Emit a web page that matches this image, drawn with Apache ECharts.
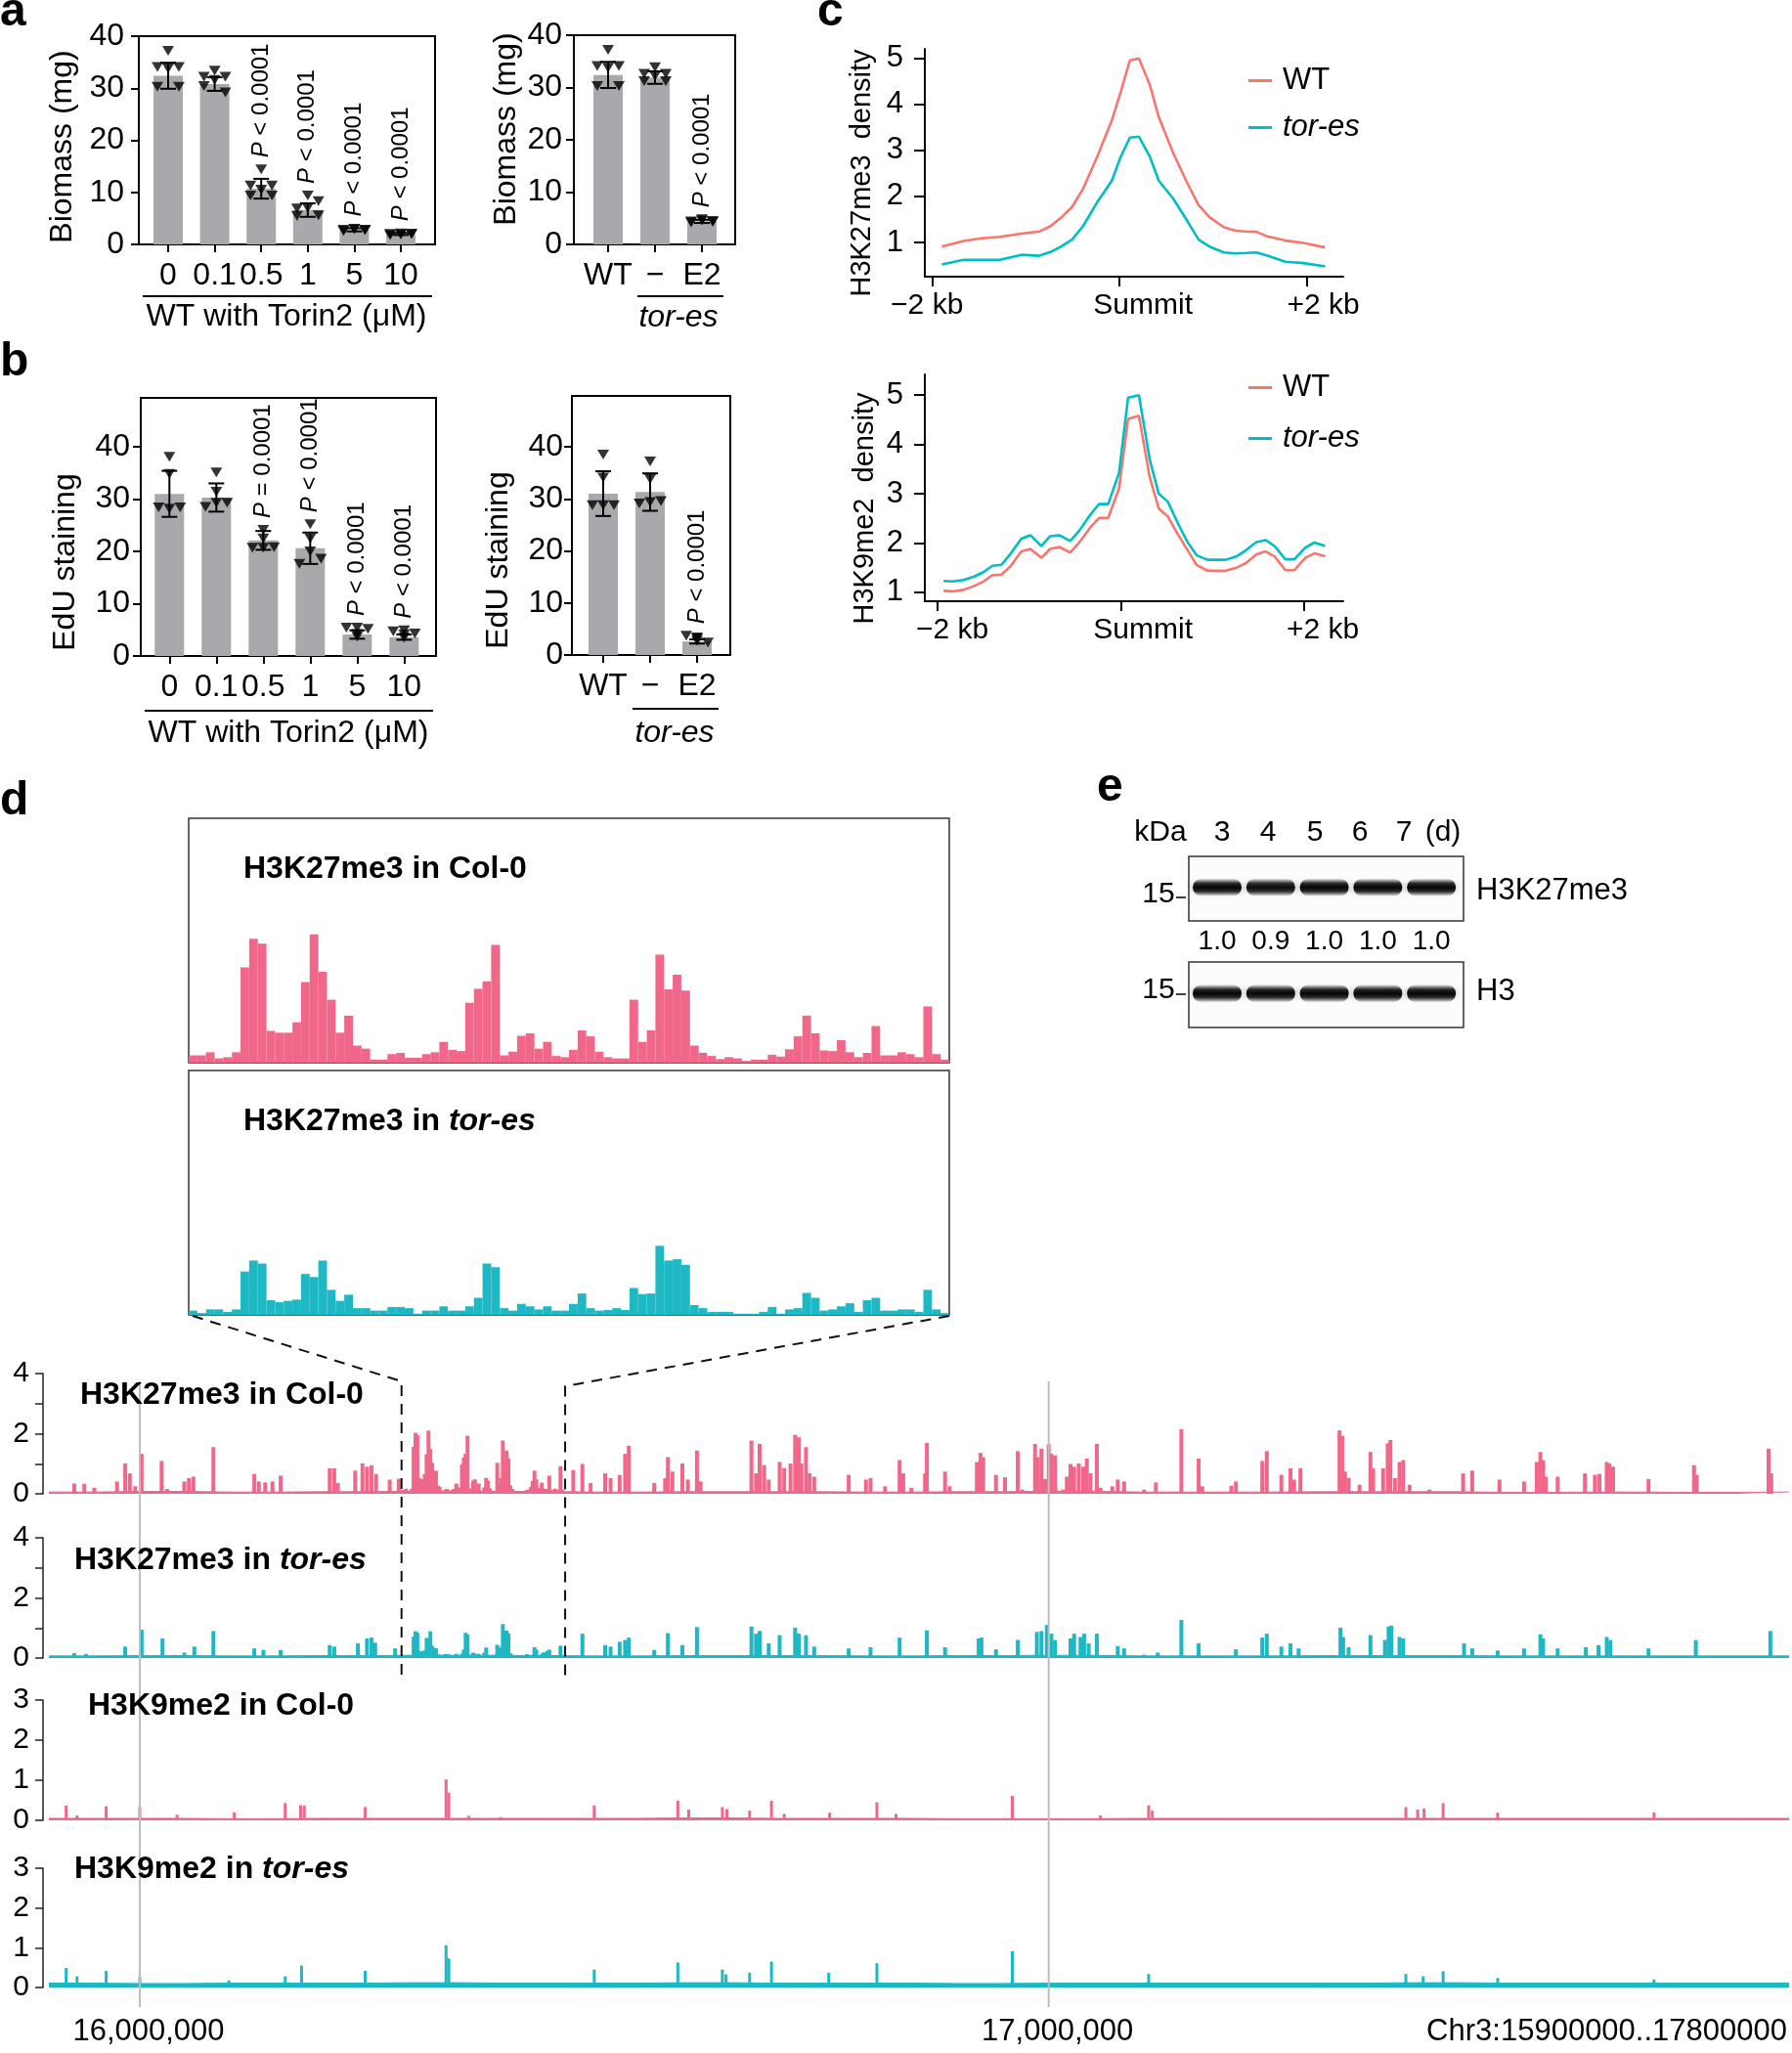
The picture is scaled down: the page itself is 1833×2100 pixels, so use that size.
<!DOCTYPE html>
<html><head><meta charset="utf-8">
<script src="https://cdn.jsdelivr.net/npm/echarts@6/dist/echarts.min.js"></script>
<style>html,body{margin:0;padding:0;background:#fff}#c{width:1833px;height:2100px}</style>
</head><body><div id="c"></div>
<script>
// ===================== DATA =====================
const torinDoses = ['0', '0.1', '0.5', '1', '5', '10'];
const genotypes = ['WT', '\u2212', 'E2'];

// a: biomass (mg)
const biomassTorinMean = [32.4, 30.8, 10.7, 6.6, 2.8, 2.0];
const biomassTorinSD = [2.5, 1.3, 1.9, 1.3, 0.3, 0.2];
const biomassTorinPts = [
  [37.2, 34.1, 33.8, 34.1, 30.3, 30.3],
  [33.4, 32.2, 31.6, 32.2, 30.4, 29.2],
  [14.4, 11.3, 10.5, 11.3, 9.4, 9.4],
  [9.4, 6.9, 7.0, 8.3, 5.5, 5.6],
  [3.0, 2.8, 2.9, 2.7, 2.6, 2.8],
  [2.1, 2.0, 1.9, 2.0, 1.8, 2.0]
];
const biomassTorinP = ['', '', '< 0.0001', '< 0.0001', '< 0.0001', '< 0.0001'];
const biomassGenoMean = [32.4, 31.9, 4.4];
const biomassGenoSD = [2.5, 1.2, 0.3];
const biomassGenoPts = [
  [37.2, 34.1, 33.8, 34.1, 30.3, 30.3],
  [33.9, 32.6, 32.2, 32.6, 31.2, 31.2],
  [4.8, 4.4, 4.6, 4.3, 4.2, 4.5]
];
const biomassGenoP = ['', '', '< 0.0001'];

// b: EdU staining
const eduTorinMean = [31.0, 30.3, 22.1, 20.6, 4.1, 3.6];
const eduTorinSD = [4.4, 2.7, 1.8, 3.0, 0.8, 0.5];
const eduTorinPts = [
  [38.1, 34.8, 28.4, 28.2, 28.4],
  [35.1, 31.4, 28.5, 29.3, 29.3],
  [24.1, 22.5, 20.7, 20.7, 20.8],
  [25.2, 22.5, 17.6, 20.0, 18.6],
  [5.4, 3.7, 5.4, 4.2, 5.2],
  [4.9, 3.5, 4.7, 4.1, 4.3]
];
const eduTorinP = ['', '', '= 0.0001', '< 0.0001', '< 0.0001', '< 0.0001'];
const eduGenoMean = [31.0, 31.3, 2.6];
const eduGenoSD = [4.3, 3.6, 0.4];
const eduGenoPts = [
  [38.5, 34.1, 28.8, 28.8, 28.8],
  [37.2, 33.8, 29.1, 29.4, 29.6],
  [3.4, 2.7, 3.7, 3.2, 2.4]
];
const eduGenoP = ['', '', '< 0.0001'];

// c: metaplots (kb from summit)
const h3k27X = [-1.896,-1.664,-1.472,-1.279,-1.047,-0.854,-0.739,-0.623,-0.507,-0.391,-0.237,-0.083,0.014,0.110,0.207,0.322,0.419,0.573,0.727,0.843,0.959,1.113,1.229,1.345,1.460,1.577,1.769,1.961,2.193];
const h3k27WT = [0.91,1.03,1.09,1.12,1.19,1.24,1.35,1.54,1.77,2.16,2.87,3.65,4.29,4.96,5.00,4.43,3.72,2.94,2.27,1.81,1.55,1.33,1.26,1.24,1.23,1.13,1.04,0.99,0.89];
const h3k27Tor = [0.52,0.62,0.62,0.62,0.73,0.71,0.79,0.91,1.06,1.35,1.88,2.34,2.87,3.28,3.30,2.87,2.34,1.95,1.45,1.06,0.91,0.78,0.76,0.77,0.78,0.71,0.58,0.55,0.48];
const h3k9X = [-1.929,-1.830,-1.712,-1.594,-1.495,-1.397,-1.298,-1.200,-1.082,-0.983,-0.865,-0.767,-0.668,-0.550,-0.451,-0.333,-0.235,-0.136,-0.018,0.081,0.199,0.317,0.415,0.514,0.613,0.731,0.829,0.947,1.046,1.144,1.263,1.361,1.479,1.578,1.676,1.795,1.893,2.011,2.110,2.228];
const h3k9WT = [1.03,1.02,1.05,1.13,1.22,1.35,1.36,1.53,1.83,1.88,1.70,1.88,1.92,1.81,2.01,2.31,2.51,2.51,3.10,4.52,4.58,3.33,2.70,2.54,2.21,1.85,1.55,1.44,1.44,1.44,1.50,1.59,1.77,1.83,1.73,1.45,1.45,1.70,1.79,1.73];
const h3k9Tor = [1.23,1.22,1.25,1.32,1.41,1.54,1.56,1.78,2.09,2.16,1.94,2.14,2.16,2.04,2.25,2.57,2.79,2.79,3.42,4.95,5.00,3.69,3.00,2.84,2.44,2.01,1.75,1.66,1.66,1.66,1.73,1.85,2.02,2.06,1.94,1.67,1.67,1.91,2.01,1.94];
const summitTicks = [-2, 0, 2];

// d: genome browser (positions in Mb)
const browserRange = [15.9, 17.8146];
const gridLinesMb = [16, 17];
const insetRegionMb = [16.288, 16.468];
const insetCol0 = [0.12,0.12,0.17,0.07,0.09,0.17,1.56,2.03,1.95,0.52,0.49,0.49,0.66,1.32,2.10,1.49,1.03,0.49,0.77,0.28,0.23,0.05,0.05,0.14,0.16,0.08,0.08,0.14,0.17,0.34,0.21,0.19,0.98,1.21,1.33,1.93,0.12,0.18,0.44,0.48,0.23,0.34,0.11,0.09,0.21,0.53,0.43,0.18,0.09,0.07,0.07,1.03,0.34,0.53,1.77,1.20,1.44,1.18,0.28,0.16,0.11,0.06,0.09,0.07,0.03,0.05,0.05,0.13,0.10,0.22,0.43,0.77,0.48,0.20,0.19,0.37,0.17,0.09,0.16,0.60,0.12,0.12,0.17,0.14,0.09,0.92,0.14,0.05];
const insetTor = [0.07,0.03,0.09,0.09,0.05,0.09,0.71,0.89,0.84,0.24,0.21,0.23,0.25,0.67,0.62,0.89,0.41,0.23,0.33,0.11,0.11,0.07,0.07,0.13,0.13,0.11,0.02,0.07,0.07,0.14,0.07,0.07,0.14,0.28,0.84,0.78,0.11,0.07,0.18,0.14,0.09,0.14,0.07,0.07,0.18,0.35,0.11,0.07,0.08,0.11,0.08,0.44,0.34,0.35,1.13,0.89,0.91,0.82,0.16,0.11,0.05,0.05,0.05,0.02,0.02,0.02,0.05,0.13,0.02,0.09,0.11,0.36,0.28,0.07,0.09,0.14,0.19,0.05,0.24,0.28,0.07,0.07,0.09,0.09,0.05,0.41,0.09,0.03];
const k27Col0Peaks = [[15.928,0.34],[15.939,0.33],[15.950,0.2],[15.975,0.41],[15.984,1.01],[15.989,0.68],[15.995,0.25],[16.002,1.33],[16.024,1.09],[16.030,0.16],[16.049,0.41],[16.054,0.52],[16.059,0.57],[16.081,1.55],[16.126,0.66],[16.131,0.41],[16.138,0.38],[16.146,0.41],[16.155,0.6],[16.209,0.85],[16.214,0.85],[16.218,0.36],[16.237,0.77],[16.245,1.01],[16.250,0.9],[16.255,0.95],[16.260,0.66],[16.275,0.47],[16.285,0.5],
[16.477,0.79],[16.487,0.99],[16.496,0.36],[16.512,0.68],[16.518,0.52],[16.528,0.63],[16.534,1.33],[16.538,1.6],[16.566,0.36],[16.578,0.52],[16.581,1.22],[16.586,0.74],[16.597,1.01],[16.603,0.47],[16.613,1.44],[16.617,0.41],[16.673,1.77],[16.678,0.68],[16.682,1.66],[16.687,0.95],[16.692,0.47],[16.704,1.06],[16.709,0.85],[16.716,1.01],[16.721,1.96],[16.725,1.88],[16.728,1.01],[16.733,1.55],[16.737,0.68],[16.742,0.57],[16.780,0.63],[16.799,0.47],[16.804,0.52],
[16.820,0.25],[16.836,1.12],[16.840,0.68],[16.849,0.2],[16.864,0.68],[16.866,1.69],[16.886,0.74],[16.891,0.25],[16.921,1.06],[16.925,1.36],[16.928,1.22],[16.942,0.63],[16.952,0.55],[16.966,1.42],[16.971,0.14],[16.985,1.66],[16.988,1.22],[16.992,1.5],[16.996,0.49],[17.000,1.64],[17.003,1.33],[17.007,1.28],[17.016,0.14],[17.020,0.57],[17.024,0.99],[17.028,0.9],[17.033,1.01],[17.038,0.9],[17.042,1.17],[17.046,0.68],[17.053,1.66],[17.057,0.2],[17.070,0.25],[17.076,0.47],[17.083,0.41],[17.105,0.14],[17.118,0.38],[17.146,2.15],[17.165,1.17],[17.169,0.25],[17.201,0.27],[17.206,0.41],[17.235,1.09],[17.240,1.42],[17.256,0.63],[17.266,0.85],[17.270,0.47],[17.277,0.85],[17.320,2.11],[17.323,1.93],[17.326,0.74],[17.330,0.52],[17.342,0.3],[17.354,1.39],[17.357,0.85],[17.368,0.85],[17.373,1.68],[17.376,1.79],[17.381,0.52],[17.386,1.06],[17.390,1.12],[17.397,0.3],[17.419,0.14],[17.456,0.68],[17.466,0.77],[17.496,0.47],[17.523,0.41],[17.537,1.06],[17.541,1.39],[17.544,1.12],[17.547,0.57],[17.560,0.57],[17.590,0.68],[17.601,0.63],[17.606,0.66],[17.614,1.06],[17.617,1.01],[17.621,0.9],[17.660,0.49],[17.710,0.95],[17.713,0.63],[17.792,1.5],[17.795,0.68]];
const k27TorPeaks = [[15.928,0.16],[15.941,0.14],[15.984,0.38],[16.002,0.94],[16.025,0.65],[16.049,0.18],[16.060,0.38],[16.081,0.9],[16.126,0.32],[16.136,0.27],[16.155,0.27],[16.209,0.43],[16.214,0.38],[16.240,0.49],[16.250,0.65],[16.255,0.68],[16.259,0.51],[16.281,0.32],
[16.487,0.81],[16.512,0.43],[16.518,0.38],[16.528,0.54],[16.534,0.6],[16.538,0.68],[16.566,0.27],[16.581,0.83],[16.597,0.43],[16.613,1.03],[16.673,1.05],[16.678,0.81],[16.682,0.9],[16.692,0.49],[16.704,0.76],[16.721,1.01],[16.725,0.81],[16.733,0.76],[16.742,0.38],[16.780,0.32],[16.804,0.36],
[16.836,0.68],[16.866,0.92],[16.886,0.36],[16.923,0.65],[16.926,0.68],[16.942,0.29],[16.966,0.6],[16.987,0.87],[16.992,0.9],[16.998,1.1],[17.003,0.81],[17.007,0.6],[17.024,0.65],[17.028,0.81],[17.035,0.7],[17.039,0.81],[17.044,0.49],[17.053,0.81],[17.076,0.4],[17.083,0.32],[17.105,0.11],[17.120,0.18],[17.146,1.27],[17.165,0.49],[17.206,0.29],[17.235,0.68],[17.240,0.81],[17.256,0.38],[17.266,0.49],[17.275,0.32],[17.321,1.01],[17.324,0.7],[17.330,0.36],[17.354,0.76],[17.370,0.6],[17.374,1.05],[17.377,1.08],[17.386,0.7],[17.390,0.65],[17.457,0.49],[17.466,0.32],[17.494,0.25],[17.523,0.32],[17.541,0.79],[17.544,0.65],[17.560,0.32],[17.591,0.36],[17.605,0.43],[17.614,0.7],[17.618,0.6],[17.660,0.32],[17.712,0.6],[17.794,0.9]];
const k9Col0Peaks = [[15.919,0.37],[15.931,0.12],[15.963,0.35],[16.000,0.33],[16.041,0.14],[16.104,0.2],[16.160,0.43],[16.177,0.38],[16.181,0.37],[16.248,0.33],[16.337,1.02],[16.340,0.69],[16.362,0.11],[16.397,0.08],[16.500,0.37],[16.592,0.49],[16.604,0.27],[16.641,0.33],[16.646,0.28],[16.671,0.24],[16.695,0.49],[16.709,0.16],[16.759,0.19],[16.811,0.45],[16.832,0.16],[16.960,0.61],[17.057,0.12],[17.110,0.37],[17.114,0.24],[17.393,0.33],[17.406,0.27],[17.413,0.3],[17.434,0.43],[17.494,0.19],[17.666,0.2]];
const k9TorPeaks = [[15.919,0.49],[15.931,0.28],[15.963,0.42],[16.000,0.26],[16.098,0.18],[16.160,0.28],[16.178,0.55],[16.248,0.42],[16.337,1.06],[16.340,0.73],[16.500,0.45],[16.592,0.63],[16.641,0.45],[16.645,0.33],[16.671,0.37],[16.695,0.65],[16.758,0.37],[16.811,0.61],[16.960,0.91],[17.110,0.34],[17.393,0.34],[17.412,0.28],[17.434,0.41],[17.494,0.24],[17.666,0.2]];
const k27Col0Floor = [[15.9,0.06],[16.0,0.08],[16.1,0.06],[16.2,0.07],[16.3,0.09],[16.4,0.08],[16.5,0.06],[16.6,0.07],[16.7,0.07],[16.8,0.06],[16.9,0.07],[17.0,0.09],[17.1,0.06],[17.2,0.06],[17.3,0.07],[17.4,0.07],[17.5,0.05],[17.6,0.06],[17.7,0.05],[17.8146,0.06]];
const k27TorFloor = [[15.9,0.07],[16.0,0.08],[16.1,0.07],[16.2,0.08],[16.3,0.09],[16.4,0.08],[16.5,0.07],[16.6,0.08],[16.7,0.08],[16.8,0.07],[16.9,0.08],[17.0,0.09],[17.1,0.07],[17.2,0.07],[17.3,0.08],[17.4,0.08],[17.5,0.07],[17.6,0.07],[17.7,0.07],[17.8146,0.07]];
const k9Col0Floor = [[15.9,0.05],[16.0,0.05],[16.1,0.04],[16.2,0.05],[16.3,0.05],[16.4,0.05],[16.5,0.05],[16.6,0.06],[16.7,0.05],[16.8,0.05],[16.9,0.04],[17.0,0.04],[17.1,0.05],[17.2,0.05],[17.3,0.05],[17.4,0.05],[17.5,0.05],[17.6,0.05],[17.7,0.05],[17.8146,0.05]];
const k9TorFloor = [[15.9,0.11],[16.0,0.1],[16.1,0.11],[16.2,0.11],[16.3,0.12],[16.4,0.11],[16.5,0.11],[16.6,0.12],[16.7,0.11],[16.8,0.11],[16.9,0.1],[17.0,0.11],[17.1,0.11],[17.2,0.11],[17.3,0.11],[17.4,0.12],[17.5,0.11],[17.6,0.11],[17.7,0.11],[17.8146,0.11]];

// e: immunoblot
const laneDays = ['3', '4', '5', '6', '7'];
const h3k27Levels = [1.0, 0.9, 1.0, 1.0, 1.0];
const h3Levels = [1.0, 1.0, 1.0, 1.0, 1.0];

// ===================== STYLE / LAYOUT =====================
const FONT = 'Liberation Sans, Arial, Helvetica, sans-serif';
const BAR_GRAY = '#A7A9AC';
const PINK = '#F0678A';
const TEAL = '#1DB8C4';
const C_RED = '#F8766D';
const C_CYAN = '#00BFC4';
const JITTER = {5: [0, 0, -1, 0, 1], 6: [0, -1, 0, 1, -1, 1]};

const grids = [], xAxes = [], yAxes = [], series = [], graphics = [], legends = [];
const hiddenAxis = (gi, extra) => Object.assign({gridIndex: gi, show: false, splitLine: {show: false}}, extra);

function errorBarRender(params, api) {
  const x = api.value(0);
  const lo = api.coord([x, api.value(1)]), hi = api.coord([x, api.value(2)]);
  const w = 8, st = {stroke: '#000', lineWidth: 2};
  return {type: 'group', children: [
    {type: 'line', shape: {x1: lo[0], y1: lo[1], x2: hi[0], y2: hi[1]}, style: st},
    {type: 'line', shape: {x1: lo[0] - w, y1: lo[1], x2: lo[0] + w, y2: lo[1]}, style: st},
    {type: 'line', shape: {x1: hi[0] - w, y1: hi[1], x2: hi[0] + w, y2: hi[1]}, style: st}
  ]};
}

function barPanel(cfg) {
  const gi = grids.length;
  grids.push({left: cfg.box[0], top: cfg.box[1], width: cfg.box[2], height: cfg.box[3], show: true, borderColor: '#000', borderWidth: 2, backgroundColor: 'transparent'});
  const idx = cfg.cats.map((_, i) => i);
  xAxes.push({gridIndex: gi, type: 'value', min: cfg.xr[0], max: cfg.xr[1],
    axisLine: {show: true, onZero: false, lineStyle: {color: '#000', width: 2}},
    axisTick: {show: true, length: 8, lineStyle: {color: '#000', width: 2}, customValues: idx},
    axisLabel: {show: true, customValues: idx, formatter: v => cfg.cats[Math.round(v)], color: '#000', fontSize: 32, fontFamily: FONT, margin: 16},
    splitLine: {show: false}});
  yAxes.push({gridIndex: gi, type: 'value', min: 0, max: cfg.ymax,
    axisLine: {show: true, onZero: false, lineStyle: {color: '#000', width: 2}},
    axisTick: {show: true, length: 8, lineStyle: {color: '#000', width: 2}, customValues: [0, 10, 20, 30, 40]},
    axisLabel: {show: true, customValues: [0, 10, 20, 30, 40], color: '#000', fontSize: 32, fontFamily: FONT, margin: cfg.ylm},
    splitLine: {show: false}});
  series.push({type: 'bar', xAxisIndex: gi, yAxisIndex: gi, data: cfg.means.map((m, i) => [i, m]), barWidth: 30, itemStyle: {color: BAR_GRAY}, z: 2, silent: true});
  series.push({type: 'custom', xAxisIndex: gi, yAxisIndex: gi, data: cfg.means.map((m, i) => [i, m - cfg.sds[i], m + cfg.sds[i]]), renderItem: errorBarRender, z: 3, silent: true});
  const pts = [];
  cfg.points.forEach((arr, i) => arr.forEach((v, k) => pts.push([i + JITTER[arr.length][k] * 0.23, v])));
  series.push({type: 'scatter', xAxisIndex: gi, yAxisIndex: gi, data: pts, symbol: 'triangle', symbolRotate: 180, symbolSize: [12, 10], itemStyle: {color: '#000'}, z: 4, silent: true});
  const pData = [];
  cfg.pText.forEach((t, i) => { if (t) pData.push([i, Math.max(...cfg.points[i], cfg.means[i] + cfg.sds[i])]); });
  series.push({type: 'custom', xAxisIndex: gi, yAxisIndex: gi, data: pData, z: 5, silent: true,
    renderItem: (params, api) => {
      const i = api.value(0), p = api.coord([i, api.value(1)]);
      return {type: 'text', x: p[0], y: p[1] - 12, rotation: Math.PI / 2,
        style: {text: '{i|P} ' + cfg.pText[i], fill: '#000', fontSize: 24, fontFamily: FONT, align: 'left', verticalAlign: 'middle',
          rich: {i: {fontStyle: 'italic', fontSize: 24, fontFamily: FONT, fill: '#000'}}}};
    }});
}

barPanel({box: [142, 37, 303, 213], xr: [-0.63, 5.735], ymax: 40, ylm: 15, cats: torinDoses, means: biomassTorinMean, sds: biomassTorinSD, points: biomassTorinPts, pText: biomassTorinP});
barPanel({box: [587, 36, 165, 214], xr: [-0.729, 2.708], ymax: 40, ylm: 12, cats: genotypes, means: biomassGenoMean, sds: biomassGenoSD, points: biomassGenoPts, pText: biomassGenoP});
barPanel({box: [144, 407, 302, 264], xr: [-0.61, 5.68], ymax: 49.35, ylm: 11, cats: torinDoses, means: eduTorinMean, sds: eduTorinSD, points: eduTorinPts, pText: eduTorinP});
barPanel({box: [585, 405, 162, 265], xr: [-0.667, 2.708], ymax: 49.77, ylm: 9, cats: genotypes, means: eduGenoMean, sds: eduGenoSD, points: eduGenoPts, pText: eduGenoP});

// ---- panel c
function metaPanel(cfg) {
  const gi = grids.length;
  grids.push({left: 946, top: cfg.top, width: 428, height: cfg.h});
  xAxes.push({gridIndex: gi, type: 'value', min: cfg.xr[0], max: cfg.xr[1],
    axisLine: {show: true, onZero: false, lineStyle: {color: '#000', width: 2}},
    axisTick: {show: true, length: 10, lineStyle: {color: '#000', width: 2}, customValues: summitTicks},
    axisLabel: {show: true, customValues: cfg.labelAt, formatter: v => v < -1 ? '\u22122 kb' : (v > 1 ? '+2 kb' : 'Summit'), color: '#000', fontSize: 30, fontFamily: FONT, margin: 15},
    splitLine: {show: false}});
  yAxes.push({gridIndex: gi, type: 'value', min: cfg.yr[0], max: cfg.yr[1],
    axisLine: {show: true, onZero: false, lineStyle: {color: '#000', width: 2}},
    axisTick: {show: true, length: 11, lineStyle: {color: '#000', width: 2}, customValues: [1, 2, 3, 4, 5]},
    axisLabel: {show: true, customValues: [1, 2, 3, 4, 5], color: '#000', fontSize: 31, fontFamily: FONT, margin: 22},
    splitLine: {show: false}});
  series.push({type: 'line', name: 'WT', xAxisIndex: gi, yAxisIndex: gi, data: cfg.x.map((x, i) => [x, cfg.wt[i]]), showSymbol: false, color: C_RED, lineStyle: {color: C_RED, width: 2.6}, z: 3, silent: true});
  series.push({type: 'line', name: 'tor-es', xAxisIndex: gi, yAxisIndex: gi, data: cfg.x.map((x, i) => [x, cfg.tor[i]]), showSymbol: false, color: C_CYAN, lineStyle: {color: C_CYAN, width: 2.6}, z: 3, silent: true});
  legends.push({left: 1272, top: cfg.legTop, orient: 'vertical', icon: 'rect', itemWidth: 24, itemHeight: 3, itemGap: cfg.legGap, selectedMode: false,
    data: ['WT', 'tor-es'], formatter: n => n === 'tor-es' ? '{i|tor-es}' : n,
    textStyle: {color: '#000', fontSize: 31, fontFamily: FONT, padding: [0, 0, 0, 6], rich: {i: {fontStyle: 'italic', fontSize: 31, fontFamily: FONT, color: '#000'}}}});
}
metaPanel({top: 50, h: 233, xr: [-2.077, 2.386], yr: [0.255, 5.21], labelAt: [-2.054, 0.25, 2.174], x: h3k27X, wt: h3k27WT, tor: h3k27Tor, legTop: 62, legGap: 17});
metaPanel({top: 383, h: 232, xr: [-2.133, 2.425], yr: [0.82, 5.42], labelAt: [-1.833, 0.244, 2.203], x: h3k9X, wt: h3k9WT, tor: h3k9Tor, legTop: 376, legGap: 21});

// ---- panel d inset boxes
const INSET = {left: 193, width: 778, height: 250, tops: [837, 1095]};
[[insetCol0, PINK], [insetTor, TEAL]].forEach(([arr, col], k) => {
  const gi = grids.length;
  grids.push({left: INSET.left, top: INSET.tops[k], width: INSET.width, height: INSET.height, show: true, borderColor: '#333', borderWidth: 1.5, backgroundColor: 'transparent'});
  xAxes.push(hiddenAxis(gi, {type: 'category', data: arr.map((_, i) => i), boundaryGap: true}));
  yAxes.push(hiddenAxis(gi, {type: 'value', min: 0, max: 4}));
  series.push({type: 'bar', xAxisIndex: gi, yAxisIndex: gi, data: arr, barWidth: '100%', barCategoryGap: '0%', itemStyle: {color: col}, silent: true, z: 2});
});

// ---- panel d tracks
const binMb = (i, n) => insetRegionMb[0] + (i + 0.5) * (insetRegionMb[1] - insetRegionMb[0]) / n;
const tracks = [
  {top: 1405, h: 123, ymax: 4, col: PINK, bw: 4, peaks: k27Col0Peaks.concat(insetCol0.map((v, i) => [binMb(i, insetCol0.length), v])), floor: k27Col0Floor},
  {top: 1573, h: 123, ymax: 4, col: TEAL, bw: 4, peaks: k27TorPeaks.concat(insetTor.map((v, i) => [binMb(i, insetTor.length), v])), floor: k27TorFloor},
  {top: 1739, h: 123, ymax: 3, col: PINK, bw: 3, peaks: k9Col0Peaks, floor: k9Col0Floor},
  {top: 1911, h: 122, ymax: 3, col: TEAL, bw: 3, peaks: k9TorPeaks, floor: k9TorFloor}
];
tracks.forEach(t => {
  const gi = grids.length;
  grids.push({left: 50, top: t.top, width: 1780, height: t.h});
  xAxes.push(hiddenAxis(gi, {type: 'value', min: browserRange[0], max: browserRange[1]}));
  yAxes.push({gridIndex: gi, type: 'value', min: 0, max: t.ymax, interval: 1, offset: 6,
    axisLine: {show: true, onZero: false, lineStyle: {color: '#222', width: 1.5}},
    axisTick: {show: true, length: 8, lineStyle: {color: '#222', width: 1.5}},
    axisLabel: {show: true, color: '#000', fontSize: 30, fontFamily: FONT, margin: 14, formatter: v => (t.ymax === 4 && v % 2 !== 0) ? '' : String(v)},
    splitLine: {show: false}});
  series.push({type: 'line', xAxisIndex: gi, yAxisIndex: gi, data: t.floor, step: 'middle', showSymbol: false, lineStyle: {color: t.col, width: 1}, areaStyle: {color: t.col, opacity: 1}, silent: true, z: 2});
  series.push({type: 'bar', xAxisIndex: gi, yAxisIndex: gi, data: t.peaks, barWidth: t.bw, itemStyle: {color: t.col}, silent: true, z: 3});
});

// overlay grid for genome coordinates and reference lines
const OVERLAY = grids.length;
grids.push({left: 50, top: 1413, width: 1780, height: 640});
xAxes.push({gridIndex: OVERLAY, type: 'value', min: browserRange[0], max: browserRange[1],
  axisLine: {show: false}, axisTick: {show: false}, splitLine: {show: false},
  axisLabel: {show: true, customValues: gridLinesMb, formatter: v => (Math.round(v * 1e6)).toLocaleString('en-US'), color: '#000', fontSize: 31, fontFamily: FONT, margin: 10, padding: [0, 0, 0, 18]}});
yAxes.push(hiddenAxis(OVERLAY, {type: 'value', min: 0, max: 1}));
series.push({type: 'custom', xAxisIndex: OVERLAY, yAxisIndex: OVERLAY, data: gridLinesMb.map(v => [v]), z: 10, silent: true,
  renderItem: (params, api) => {
    const a = api.coord([api.value(0), 0]), b = api.coord([api.value(0), 1]);
    return {type: 'line', shape: {x1: a[0], y1: a[1], x2: b[0], y2: b[1]}, style: {stroke: '#BDBDBD', lineWidth: 2}};
  }});

// ---- panel e blot
const BLOT = {left: 1216, width: 281, tops: [876, 984], heights: [66, 67]};
const bandFill = a => ({type: 'linear', x: 0, y: 0, x2: 0, y2: 1, colorStops: [
  {offset: 0, color: 'rgba(20,20,20,0.05)'}, {offset: 0.28, color: 'rgba(10,10,10,' + (0.85 * a) + ')'},
  {offset: 0.5, color: 'rgba(5,5,5,' + a + ')'}, {offset: 0.72, color: 'rgba(10,10,10,' + (0.85 * a) + ')'},
  {offset: 1, color: 'rgba(20,20,20,0.05)'}]});
[h3k27Levels, h3Levels].forEach((levels, k) => {
  const gi = grids.length;
  grids.push({left: BLOT.left, top: BLOT.tops[k], width: BLOT.width, height: BLOT.heights[k], show: true, borderColor: '#333', borderWidth: 1.5, backgroundColor: '#fcfcfc'});
  xAxes.push(hiddenAxis(gi, {type: 'value', min: -0.53, max: 4.6}));
  yAxes.push(hiddenAxis(gi, {type: 'value', min: 0, max: 1}));
  series.push({type: 'custom', xAxisIndex: gi, yAxisIndex: gi, data: levels.map((v, i) => [i, v]), z: 3, silent: true,
    renderItem: (params, api) => {
      const c = api.coord([api.value(0), 0.52]);
      const w = 50, h = 18, a = Math.min(1, 0.7 + 0.3 * api.value(1));
      return {type: 'rect', shape: {x: c[0] - w / 2, y: c[1] - h / 2, width: w, height: h, r: h / 2},
        style: {fill: bandFill(a), shadowBlur: 8, shadowColor: 'rgba(0,0,0,0.25)'}};
    }});
  if (k === 0) {
    series.push({type: 'custom', xAxisIndex: gi, yAxisIndex: gi, data: levels.map((v, i) => [i, v]), z: 3, silent: true,
      renderItem: (params, api) => {
        const c = api.coord([api.value(0), 0]);
        return {type: 'text', x: c[0], y: c[1] + 21, style: {text: api.value(1).toFixed(1), fill: '#000', fontSize: 28, fontFamily: FONT, align: 'center', verticalAlign: 'middle'}};
      }});
  }
});

// ===================== TEXT ANNOTATIONS =====================
let gid = 0;
function txt(x, y, text, o) {
  o = o || {};
  const style = {text, fill: '#000', fontSize: o.size || 32, fontFamily: FONT, fontWeight: o.weight || 'normal', fontStyle: o.style || 'normal', align: o.align || 'center', verticalAlign: 'middle'};
  if (o.rich) style.rich = o.rich;
  graphics.push({type: 'text', id: 't' + (gid++), x, y, rotation: o.rot || 0, z: 100, silent: true, style});
}
function seg(x1, y1, x2, y2, w) {
  graphics.push({type: 'line', id: 'l' + (gid++), z: 100, silent: true, shape: {x1, y1, x2, y2}, style: {stroke: '#000', lineWidth: w || 2}});
}
// panel letters
txt(0, 13, 'a', {size: 48, weight: 'bold', align: 'left'});
txt(0, 371, 'b', {size: 48, weight: 'bold', align: 'left'});
txt(836, 13, 'c', {size: 48, weight: 'bold', align: 'left'});
txt(0, 820, 'd', {size: 48, weight: 'bold', align: 'left'});
txt(1122, 806, 'e', {size: 48, weight: 'bold', align: 'left'});
// a / b axis titles
txt(64, 150, 'Biomass (mg)', {rot: Math.PI / 2});
txt(518, 132, 'Biomass (mg)', {rot: Math.PI / 2});
txt(67, 575, 'EdU staining', {rot: Math.PI / 2});
txt(510, 573, 'EdU staining', {rot: Math.PI / 2});
seg(146, 303, 442, 303); txt(293, 324, 'WT with Torin2 (\u03bcM)');
seg(652, 303, 740, 303); txt(694, 325, 'tor-es', {style: 'italic'});
seg(148, 727, 443, 727); txt(295, 750, 'WT with Torin2 (\u03bcM)');
seg(647, 725, 735, 725); txt(690, 750, 'tor-es', {style: 'italic'});
// c axis titles
txt(882, 177, 'H3K27me3  density', {rot: Math.PI / 2, size: 29});
txt(885, 520, 'H3K9me2  density', {rot: Math.PI / 2, size: 29});
// d titles
const richBI = {i: {fontStyle: 'italic', fontWeight: 'bold', fontSize: 32, fontFamily: FONT, fill: '#000'}};
txt(249, 889, 'H3K27me3 in Col-0', {weight: 'bold', align: 'left'});
txt(249, 1147, 'H3K27me3 in {i|tor-es}', {weight: 'bold', align: 'left', rich: richBI});
txt(82, 1427, 'H3K27me3 in Col-0', {weight: 'bold', align: 'left'});
txt(76, 1596, 'H3K27me3 in {i|tor-es}', {weight: 'bold', align: 'left', rich: richBI});
txt(90, 1745, 'H3K9me2 in Col-0', {weight: 'bold', align: 'left'});
txt(76, 1912, 'H3K9me2 in {i|tor-es}', {weight: 'bold', align: 'left', rich: richBI});
txt(1828, 2078, 'Chr3:15900000..17800000', {size: 31, align: 'right'});
// e labels
txt(1187, 852, 'kDa', {size: 30});
const laneLabelX = [1250, 1297, 1345, 1391, 1436];
laneDays.forEach((d, i) => txt(laneLabelX[i], 852, d, {size: 30}));
txt(1476, 852, '(d)', {size: 30});
txt(1185, 915, '15', {size: 30}); seg(1203, 918, 1213, 918, 1.5);
txt(1185, 1013, '15', {size: 30}); seg(1203, 1017, 1213, 1017, 1.5);
txt(1510, 911, 'H3K27me3', {size: 31, align: 'left'});
txt(1510, 1014, 'H3', {size: 31, align: 'left'});

// ===================== RENDER =====================
const chart = echarts.init(document.getElementById('c'), null, {renderer: 'canvas'});
chart.setOption({
  animation: false,
  backgroundColor: '#fff',
  textStyle: {fontFamily: FONT, color: '#000'},
  grid: grids, xAxis: xAxes, yAxis: yAxes, series, legend: legends,
  graphic: {elements: graphics}
});

// zoom connectors (dashed), from inset box corners to the genomic window
const xs = chart.convertToPixel({xAxisIndex: OVERLAY}, insetRegionMb[0]);
const xe = chart.convertToPixel({xAxisIndex: OVERLAY}, insetRegionMb[1]);
const insetBottom = INSET.tops[1] + INSET.height;
const dash = {stroke: '#111', lineWidth: 2, lineDash: [11, 8], fill: null};
chart.setOption({graphic: {elements: [
  {type: 'polyline', id: 'connL', z: 60, silent: true, shape: {points: [[INSET.left + 4, insetBottom + 1], [xs, 1413], [xs, 1718]]}, style: dash},
  {type: 'polyline', id: 'connR', z: 60, silent: true, shape: {points: [[INSET.left + INSET.width, insetBottom + 1], [xe, 1418], [xe, 1718]]}, style: dash}
]}});
</script></body></html>
